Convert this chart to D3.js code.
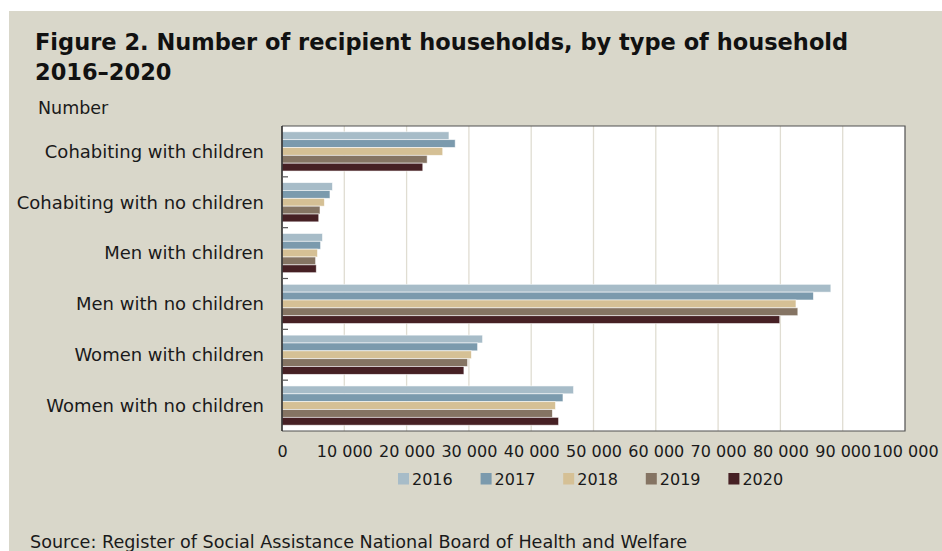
<!DOCTYPE html>
<html>
<head>
<meta charset="utf-8">
<script src="https://cdn.jsdelivr.net/npm/d3@7"></script>
<style>
  html, body { margin: 0; padding: 0; background: #ffffff; }
  svg { display: block; }
  text { font-family: "DejaVu Sans", sans-serif; fill: #1a1a1a; }
</style>
</head>
<body>
<svg id="chart" width="942" height="551"></svg>
<script>
// Household types, top to bottom
const categories = [
  "Cohabiting with children",
  "Cohabiting with no children",
  "Men with children",
  "Men with no children",
  "Women with children",
  "Women with no children"
];
const years = ["2016", "2017", "2018", "2019", "2020"];

// Recipient households per year, in category order
const v2016 = [26800, 8100, 6500, 88100, 32200, 46800];
const v2017 = [27800, 7700, 6200, 85300, 31400, 45100];
const v2018 = [25800, 6800, 5700, 82500, 30400, 43900];
const v2019 = [23300, 6100, 5400, 82800, 29800, 43400];
const v2020 = [22600, 5900, 5500, 79900, 29200, 44400];
const seriesValues = [v2016, v2017, v2018, v2019, v2020];

const xTicks = [0, 10000, 20000, 30000, 40000, 50000, 60000, 70000, 80000, 90000, 100000];
const colors = ["#a7bcc8", "#7b9aad", "#d5c095", "#857463", "#462024"];

const W = 942, H = 551;
const svg = d3.select("#chart");

// page panel
svg.append("rect").attr("x", 9).attr("y", 11).attr("width", W - 9).attr("height", H - 11)
  .attr("fill", "#d9d7ca");

// title
const title = svg.append("text").attr("x", 35).attr("font-weight", "bold")
  .attr("font-size", 22.5).style("fill", "#111");
title.append("tspan").attr("x", 35).attr("y", 50)
  .text("Figure 2. Number of recipient households, by type of household");
title.append("tspan").attr("x", 35).attr("y", 80).text("2016–2020");

svg.append("text").attr("x", 38).attr("y", 114).attr("font-size", 17.5).text("Number");

const plot = { left: 282, right: 905, top: 126, bottom: 431 };

const x = d3.scaleLinear().domain([0, 100000]).range([plot.left, plot.right]);
const y = d3.scaleBand().domain(categories).range([plot.top, plot.bottom]).padding(0);
const inner = d3.scaleBand().domain(years)
  .range([5.8, y.bandwidth() - 5.8]).padding(0);

// plot area
svg.append("rect")
  .attr("x", plot.left).attr("y", plot.top)
  .attr("width", plot.right - plot.left).attr("height", plot.bottom - plot.top)
  .attr("fill", "#ffffff");

// vertical gridlines
svg.append("g").selectAll("line")
  .data(xTicks.filter(d => d > 0 && d < 100000))
  .join("line")
  .attr("x1", d => x(d)).attr("x2", d => x(d))
  .attr("y1", plot.top).attr("y2", plot.bottom)
  .attr("stroke", "#e0ddd2").attr("stroke-width", 1.3);

// bars
const groups = svg.append("g").selectAll("g")
  .data(years.map((yr, i) => ({ yr, i })))
  .join("g")
  .attr("fill", d => colors[d.i]);

groups.selectAll("rect")
  .data(d => categories.map((c, k) => ({ c, yr: d.yr, v: seriesValues[d.i][k] })))
  .join("rect")
  .attr("x", x(0))
  .attr("y", d => y(d.c) + inner(d.yr))
  .attr("width", d => x(d.v) - x(0))
  .attr("height", inner.bandwidth())
  .attr("stroke", "#ffffff").attr("stroke-opacity", 0.7).attr("stroke-width", 0.8);

// frame: top, right, bottom
svg.append("path")
  .attr("d", `M${plot.left},${plot.top}H${plot.right}V${plot.bottom}H${plot.left}`)
  .attr("fill", "none").attr("stroke", "#505050").attr("stroke-width", 1.2);

// category axis
const yAxis = svg.append("g");
yAxis.append("line")
  .attr("x1", plot.left).attr("x2", plot.left)
  .attr("y1", plot.top).attr("y2", plot.bottom)
  .attr("stroke", "#2b2b2b").attr("stroke-width", 1.6);
yAxis.selectAll(".tk")
  .data(categories.slice(1))
  .join("line")
  .attr("x1", plot.left).attr("x2", plot.left + 6)
  .attr("y1", d => y(d)).attr("y2", d => y(d))
  .attr("stroke", "#555").attr("stroke-width", 1.2);
yAxis.selectAll("text")
  .data(categories)
  .join("text")
  .attr("x", 264)
  .attr("y", d => y(d) + y.bandwidth() / 2)
  .attr("dy", "0.35em")
  .attr("text-anchor", "end")
  .attr("font-size", 18)
  .text(d => d);

// value axis labels
const xAxis = d3.axisBottom(x).tickValues(xTicks).tickSize(0).tickPadding(0)
  .tickFormat(d => d3.format(",")(d).replace(/,/g, " "));
const gx = svg.append("g").attr("transform", `translate(0,${plot.bottom + 15})`).call(xAxis);
gx.select(".domain").remove();
gx.selectAll("text").attr("font-size", 16).attr("dy", "0.71em")
  .attr("font-family", "'DejaVu Sans', sans-serif").style("fill", "#1a1a1a");

// legend
const legend = svg.append("g").selectAll("g")
  .data(years)
  .join("g")
  .attr("transform", (d, i) => `translate(${398 + i * 82.6},473)`);
legend.append("rect").attr("width", 11).attr("height", 11.5)
  .attr("fill", (d, i) => colors[i]);
legend.append("text").attr("x", 14).attr("y", 12).attr("font-size", 16).text(d => d);

// source note
svg.append("text").attr("x", 30).attr("y", 548).attr("font-size", 17.6)
  .text("Source: Register of Social Assistance National Board of Health and Welfare");
</script>
</body>
</html>
